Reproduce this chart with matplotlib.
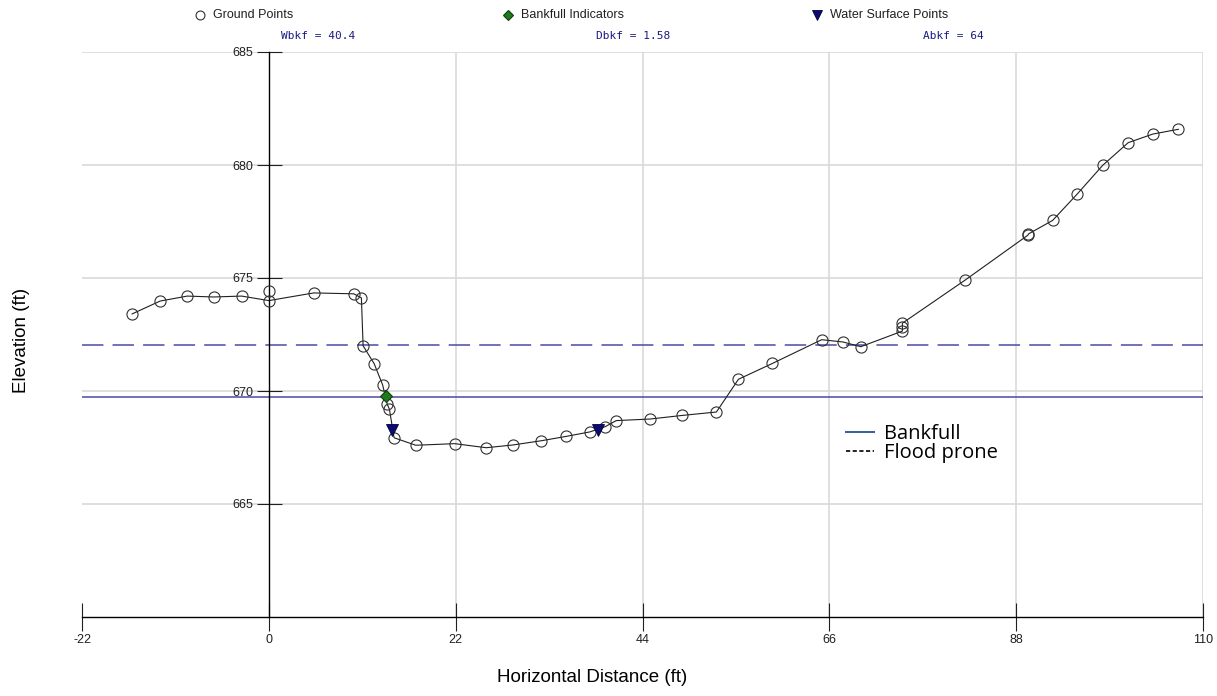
#!/usr/bin/env python3
import matplotlib.pyplot as plt
from matplotlib.lines import Line2D
import numpy as np

W, H = 1217, 696

# survey shots (ft)
ground_x = [-16.1, -12.8, -9.6, -6.5, -3.2, 0.0, 0.0, 5.3, 10.0, 10.9, 11.1, 12.4, 13.4,
            13.95, 14.2, 14.75, 17.3, 21.9, 25.6, 28.7, 32.1, 35.0, 37.8, 39.6, 40.9,
            44.9, 48.7, 52.7, 55.3, 59.3, 65.1, 67.6, 69.7, 74.6, 74.6, 74.6, 82.0,
            89.4, 89.45, 92.3, 95.2, 98.2, 101.2, 104.1, 107.1]
ground_y = [673.41, 673.98, 674.2, 674.16, 674.2, 674.42, 674.0, 674.34, 674.3, 674.12,
            672.0, 671.21, 670.27, 669.41, 669.19, 667.93, 667.6, 667.67, 667.49, 667.61,
            667.8, 667.99, 668.19, 668.42, 668.69, 668.76, 668.92, 669.07, 670.52, 671.22,
            672.27, 672.17, 671.96, 672.65, 672.82, 673.0, 674.91, 676.9, 676.95, 677.55,
            678.72, 679.99, 680.99, 681.37, 681.58]
# the shot at (0, 674.42) is not joined into the profile line
unjoined = [5]

bankfull_x = [13.76]
bankfull_y = [669.77]

water_x = [14.55, 38.8]
water_y = [668.27, 668.27]

BANKFULL_ELEV = 669.73
FLOODPRONE_ELEV = 672.05

stats = ["Wbkf = 40.4", "Dbkf = 1.58", "Abkf = 64"]

x_ticks = [-22, 0, 22, 44, 66, 88, 110]
y_ticks = [665, 670, 675, 680, 685]

plt.rcParams['font.family'] = ['Liberation Sans', 'DejaVu Sans']
plt.rcParams['axes.unicode_minus'] = False

fig = plt.figure(figsize=(W / 100, H / 100), dpi=100)
ax = fig.add_axes([82 / W, 1 - 617 / H, (1203 - 82) / W, (617 - 52) / H])

ax.set_xlim(-22, 110)
ax.set_ylim(660, 685)

# grid
for x in x_ticks[2:]:
    ax.axvline(x, color='#d9d9d9', lw=1.2, zorder=0)
for y in y_ticks:
    ax.axhline(y, color='#d9d9d9', lw=1.2, zorder=0)

ax.axhline(BANKFULL_ELEV, color='#4a4aa6', lw=1.1, zorder=1)
ax.axhline(FLOODPRONE_ELEV, color='#4a4aa6', lw=1.1, dashes=(14, 6), zorder=1)

gx = np.array(ground_x)
gy = np.array(ground_y)
joined = np.array([i not in unjoined for i in range(len(gx))])
ax.plot(gx[joined], gy[joined], color='#202020', lw=0.8, zorder=2)
ground = ax.plot(gx, gy, 'o', ms=8, mfc='none', mec='#303030', mew=0.8, zorder=3)[0]
bank = ax.plot(bankfull_x, bankfull_y, 'D', ms=6, mfc='#1f7a1f', mec='#0f3f0f', mew=0.8, zorder=4)[0]
water = ax.plot(water_x, water_y, 'v', ms=8.5, mfc='#0b0b70', mec='#000040', mew=0.6, zorder=4)[0]

# axes: y axis sits at x=0
for s in ['top', 'right']:
    ax.spines[s].set_visible(False)
ax.spines['left'].set_position(('data', 0))
ax.spines['left'].set_linewidth(1)
ax.spines['bottom'].set_linewidth(1)
ax.set_xticks(x_ticks)
ax.set_yticks(y_ticks)
ax.tick_params(axis='both', direction='inout', labelsize=9, colors='#202020', width=0.8)
ax.tick_params(axis='y', length=18, pad=2)
ax.tick_params(axis='x', length=20, pad=2)

fig.text(592 / W, 1 - 678 / H, "Horizontal Distance (ft)", ha='center', va='center', fontsize=13.5)
fig.text(22 / W, 1 - 340 / H, "Elevation (ft)", ha='center', va='center', fontsize=13.5, rotation=90)

# top legend row
legend_items = [(200, ground, "Ground Points"), (508, bank, "Bankfull Indicators"),
                (817, water, "Water Surface Points")]
ly = 1 - 15 / H
for xp, art, label in legend_items:
    fig.add_artist(Line2D([xp / W], [ly], transform=fig.transFigure, ls='none',
                          marker=art.get_marker(), ms=art.get_markersize() * 0.8,
                          mfc=art.get_markerfacecolor(), mec=art.get_markeredgecolor(),
                          mew=art.get_markeredgewidth()))
    fig.text((xp + 13) / W, ly, label, ha='left', va='center', fontsize=9, color='#202020')

for xp, s in zip([318, 633, 953], stats):
    fig.text(xp / W, 1 - 36 / H, s, ha='center', va='center', fontsize=8,
             family='DejaVu Sans Mono', color='#1a1a80')

# inset key
key = ax.legend([Line2D([], [], color='#34609e', lw=1.4),
                 Line2D([], [], color='black', lw=1.2, dashes=(2.5, 1.5))],
                ["Bankfull", "Flood prone"], loc='upper left',
                bbox_to_anchor=(828 / W, 1 - 406 / H), bbox_transform=fig.transFigure,
                frameon=False, handlelength=1.4, handletextpad=0.5,
                labelspacing=-0.05, prop={'family': 'Open Sans', 'size': 14.5})
key.set_zorder(5)

fig.savefig("out.png", dpi=100)
